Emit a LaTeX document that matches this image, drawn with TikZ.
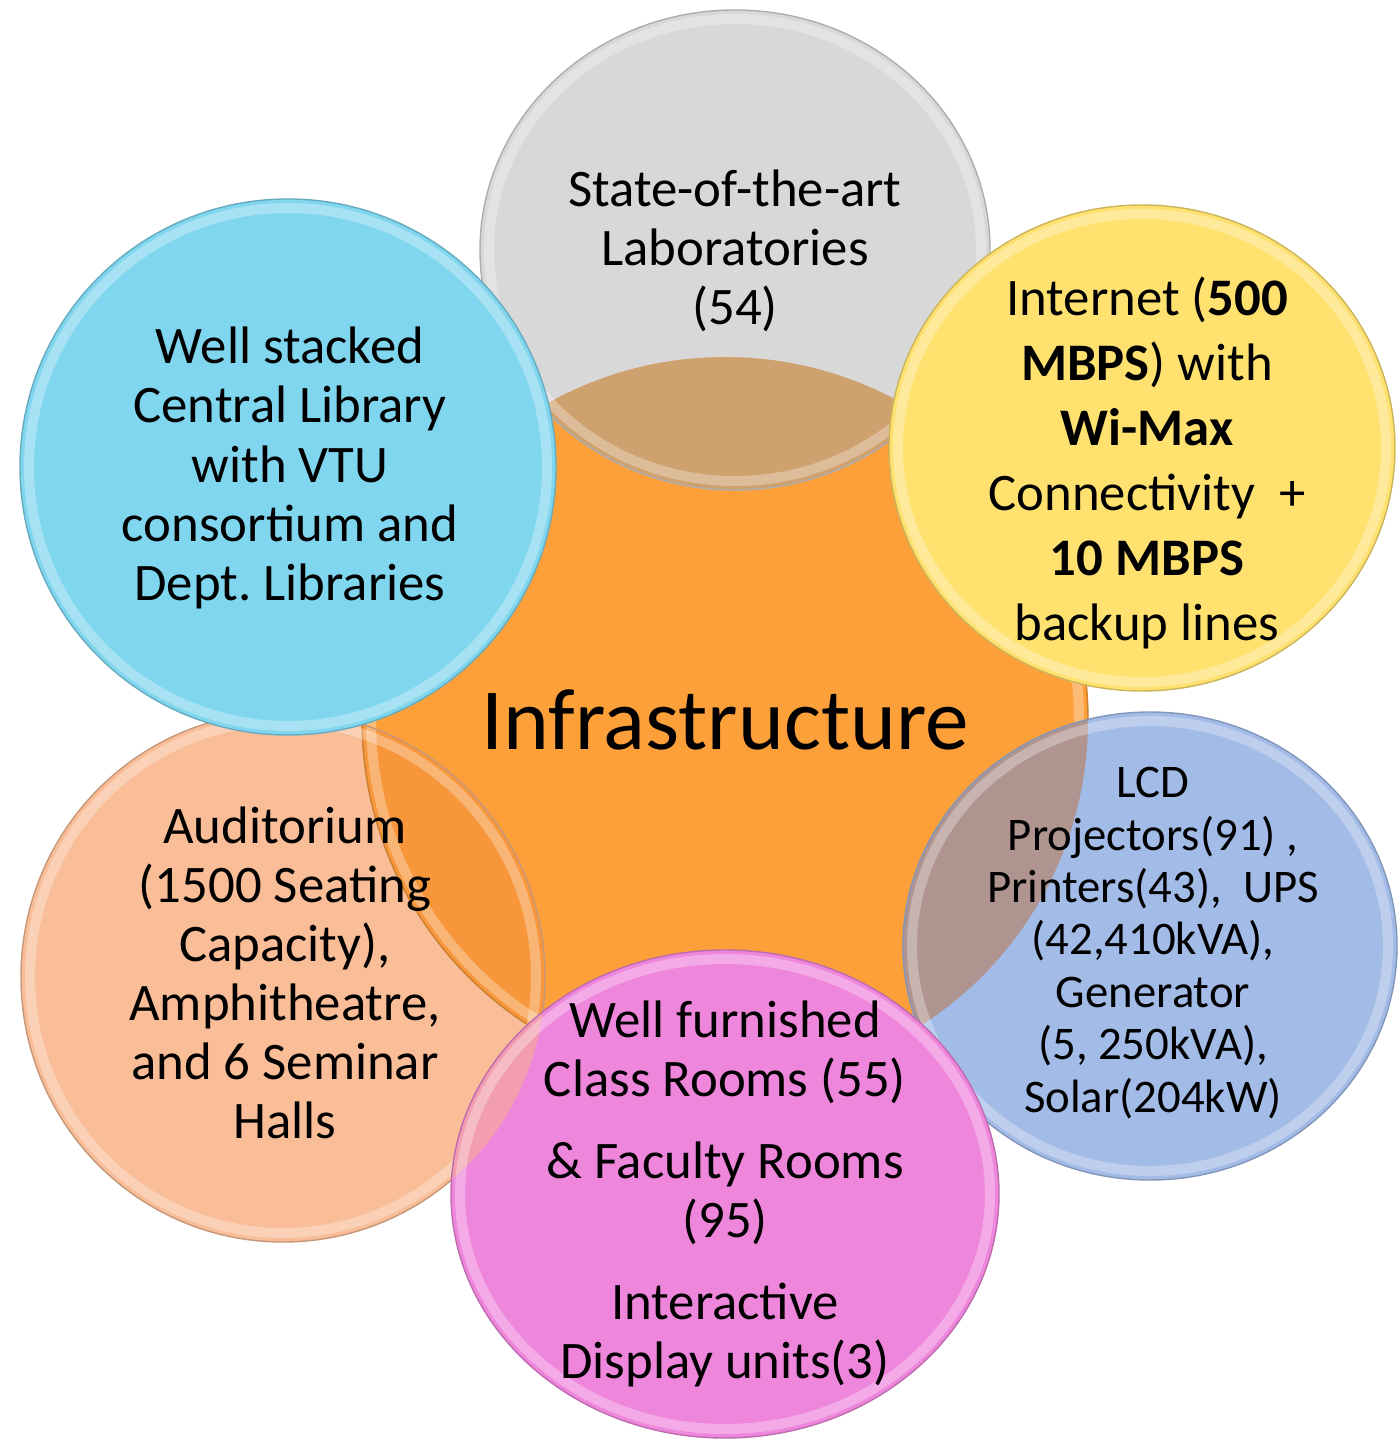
\documentclass[tikz,border=0pt]{standalone}
\usepackage{fontspec}
\setmainfont{Carlito}
\frenchspacing
\usetikzlibrary{calc}
\definecolor{hubOrange}{RGB}{253,160,58}
\definecolor{labsGray}{RGB}{216,216,216}
\definecolor{libCyan}{RGB}{128,214,238}
\definecolor{netYellow}{RGB}{254,225,111}
\definecolor{equipBlue}{RGB}{163,187,231}
\definecolor{audiSalmon}{RGB}{249,189,151}
\definecolor{roomsPink}{RGB}{238,134,220}
\definecolor{labsHub}{RGB}{207,161,110}
\definecolor{equipHub}{RGB}{175,148,144}
\definecolor{audiHub}{RGB}{247,150,58}
\definecolor{roomsAudi}{RGB}{242,158,176}
\def\bubblefill(#1)(#2:#3)#4{\fill[#4] (#1) ellipse [x radius=#2, y radius=#3];}
\def\bubblerim(#1)(#2:#3)#4{\draw[#4!80!black, line width=0.4pt] (#1) ellipse [x radius=#2, y radius=#3];
	\draw[white, opacity=0.3, line width=1mm] (#1) ellipse [x radius=#2-9, y radius=#3-9];}
\def\lens(#1)(#2:#3)(#4)(#5:#6)#7{\begin{scope}\clip (#1) ellipse [x radius=#2, y radius=#3];
	\fill[#7] (#4) ellipse [x radius=#5, y radius=#6];\end{scope}}
\tikzset{
	bubbletext/.style={align=center, text=black, font=\fontsize{15}{16.8}\selectfont},
	nettext/.style={bubbletext, font=\fontsize{15}{18.5}\selectfont},
	equiptext/.style={bubbletext, font=\fontsize{13.3}{14.9}\selectfont},
	hubtext/.style={text=black, font=\fontsize{24.8}{29}\selectfont}
}

\begin{document}
\begin{tikzpicture}[x=0.01cm, y=-0.01cm]
		%%%%% START %%%%%
		\useasboundingbox (0,0) rectangle (1397,1440);
		
		\coordinate (hub) at (725,720);
		\coordinate (labs) at (735,250);
		\coordinate (lib) at (288,467);
		\coordinate (net) at (1142,448);
		\coordinate (equip) at (1150,946);
		\coordinate (audi) at (283,977);
		\coordinate (rooms) at (725,1194);
		
		\bubblefill(audi)(262:265){audiSalmon}
		\bubblefill(hub)(363:363){hubOrange}
		\lens(audi)(262:265)(hub)(363:363){audiHub}
		\bubblerim(hub)(363:363){hubOrange}
		\bubblerim(audi)(262:265){audiSalmon}
		
		\bubblefill(labs)(255:240){labsGray}
		\lens(labs)(255:240)(hub)(363:363){labsHub}
		\bubblerim(labs)(255:240){labsGray}
		
		\bubblefill(equip)(247:234){equipBlue}
		\lens(equip)(247:234)(hub)(363:363){equipHub}
		\bubblerim(equip)(247:234){equipBlue}
		
		\bubblefill(lib)(268:268){libCyan}
		\bubblerim(lib)(268:268){libCyan}
		
		\bubblefill(net)(253:243){netYellow}
		\bubblerim(net)(253:243){netYellow}
		
		\bubblefill(rooms)(274:244){roomsPink}
		\lens(rooms)(274:244)(audi)(262:265){roomsAudi}
		\bubblerim(rooms)(274:244){roomsPink}
		
		\node[hubtext] (hubLabel) at (725,720) {Infrastructure};
		\node[bubbletext] (labsLabel) at (735,251) {State-of-the-art\\Laboratories\\(54)};
		\node[bubbletext] (libLabel) at (290,468) {Well stacked\\Central Library\\with VTU\\consortium and\\Dept. Libraries};
		\node[nettext] (netLabel) at (1147,463) {Internet (\textbf{500}\\\textbf{MBPS}) with\\\textbf{Wi-Max}\\Connectivity~ +\\\textbf{10 MBPS}\\backup lines};
		\node[equiptext] (equipLabel) at (1153,943) {LCD\\Projectors(91) ,\\Printers(43),~ UPS\\(42,410kVA),\\Generator\\(5, 250kVA),\\Solar(204kW)};
		\node[bubbletext] (audiLabel) at (285,973) {Auditorium\\(1500 Seating\\Capacity),\\Amphitheatre,\\and 6 Seminar\\Halls};
		\node[bubbletext] (roomsLabel) at (725,1194) {Well furnished\\Class Rooms (55)\\[6.5pt] \& Faculty Rooms\\(95)\\[6.5pt] Interactive\\Display units(3)};
		
		%%%%% END %%%%%
	\end{tikzpicture}
\end{document}
